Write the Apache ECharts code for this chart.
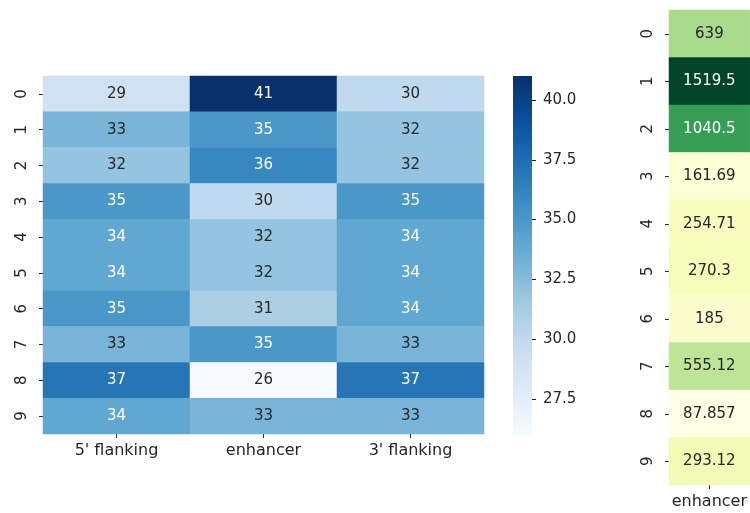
<!DOCTYPE html>
<html>
<head>
<meta charset="utf-8">
<script src="https://cdn.jsdelivr.net/npm/echarts@6/dist/echarts.min.js"></script>
<style>html,body{margin:0;padding:0;background:#fff}#c{width:750px;height:513px}</style>
</head>
<body>
<div id="c"></div>
<script>
// ---- data ----
var rowLabels = ['0','1','2','3','4','5','6','7','8','9'];
var leftCols = ["5' flanking", 'enhancer', "3' flanking"];
var flank5 = [29, 33, 32, 35, 34, 34, 35, 33, 37, 34];
var enhancer = [41, 35, 36, 30, 32, 32, 31, 35, 26, 33];
var flank3 = [30, 32, 32, 35, 34, 34, 34, 33, 37, 33];
var rightCols = ['enhancer'];
var enhancerScore = [639, 1519.5, 1040.5, 161.69, 254.71, 270.3, 185, 555.12, 87.857, 293.12];
var colorbarTicks = [27.5, 30.0, 32.5, 35.0, 37.5, 40.0];
var blueMin = 26, blueMax = 41;

var BLUES = ['#f7fbff','#deebf7','#c6dbef','#9ecae1','#6baed6','#4292c6','#2171b5','#08519c','#08306b'];
var YLGN = ['#ffffe5','#f7fcb9','#d9f0a3','#addd8e','#78c679','#41ab5d','#238443','#006837','#004529'];
var FONT = 'DejaVu Sans';
var TXT = '#262626';

var leftCols3 = [flank5, enhancer, flank3];
var leftData = [];
leftCols3.forEach(function (col, ci) {
  col.forEach(function (v, ri) {
    leftData.push({ value: [ci, ri, v], label: { color: v >= 34 ? '#ffffff' : TXT } });
  });
});
var eMin = Math.min.apply(null, enhancerScore), eMax = Math.max.apply(null, enhancerScore);
var rightData = enhancerScore.map(function (v, ri) {
  return { value: [0, ri, v], label: { color: v >= 1000 ? '#ffffff' : TXT } };
});

var gradStops = BLUES.map(function (c, i) { return { offset: i / (BLUES.length - 1), color: c }; });

function catAxisX(gi, data, margin) {
  return {
    type: 'category', gridIndex: gi, data: data, position: 'bottom',
    axisLine: { show: false },
    axisTick: { show: true, alignWithLabel: true, length: 4, lineStyle: { color: TXT } },
    axisLabel: { color: TXT, fontFamily: FONT, fontSize: 16, margin: margin },
    splitLine: { show: false }
  };
}
function catAxisY(gi, data, margin) {
  return {
    type: 'category', gridIndex: gi, data: data, inverse: true,
    axisLine: { show: false },
    axisTick: { show: true, alignWithLabel: true, length: 4, lineStyle: { color: TXT } },
    axisLabel: { color: TXT, fontFamily: FONT, fontSize: 15, rotate: 90, margin: margin },
    splitLine: { show: false }
  };
}

var chart = echarts.init(document.getElementById('c'), null, { renderer: 'canvas' });
chart.setOption({
  animation: false,
  backgroundColor: '#ffffff',
  grid: [
    { left: 43, top: 76, width: 441, height: 358 },
    { left: 669, top: 10, width: 86, height: 475 },
    { left: 513, top: 76, width: 19, height: 359, show: true, borderWidth: 0,
      backgroundColor: new echarts.graphic.LinearGradient(0, 1, 0, 0, gradStops) }
  ],
  xAxis: [
    catAxisX(0, leftCols, 9),
    catAxisX(1, rightCols, 9),
    { type: 'value', gridIndex: 2, show: false, min: 0, max: 1 }
  ],
  yAxis: [
    catAxisY(0, rowLabels, 13),
    catAxisY(1, rowLabels, 13),
    {
      type: 'value', gridIndex: 2, position: 'right', min: blueMin, max: blueMax,
      axisLine: { show: false, onZero: false },
      splitLine: { show: false },
      axisTick: { show: true, inside: false, length: 4, customValues: colorbarTicks, lineStyle: { color: TXT } },
      axisLabel: { color: TXT, fontFamily: FONT, fontSize: 15, margin: 11,
        customValues: colorbarTicks,
        formatter: function (v) { return Number(v).toFixed(1); } }
    }
  ],
  visualMap: [
    {
      type: 'continuous', seriesIndex: 0, min: blueMin, max: blueMax,
      inRange: { color: BLUES }, show: false
    },
    {
      type: 'continuous', seriesIndex: 1, min: eMin, max: eMax,
      inRange: { color: YLGN }, show: false
    }
  ],
  series: [
    {
      type: 'heatmap', xAxisIndex: 0, yAxisIndex: 0, data: leftData,
      label: { show: true, fontFamily: FONT, fontSize: 15,
        formatter: function (p) { return String(p.value[2]); } },
      emphasis: { disabled: true }
    },
    {
      type: 'heatmap', xAxisIndex: 1, yAxisIndex: 1, data: rightData,
      label: { show: true, fontFamily: FONT, fontSize: 15,
        formatter: function (p) { return String(p.value[2]); } },
      emphasis: { disabled: true }
    }
  ]
});
</script>
</body>
</html>
